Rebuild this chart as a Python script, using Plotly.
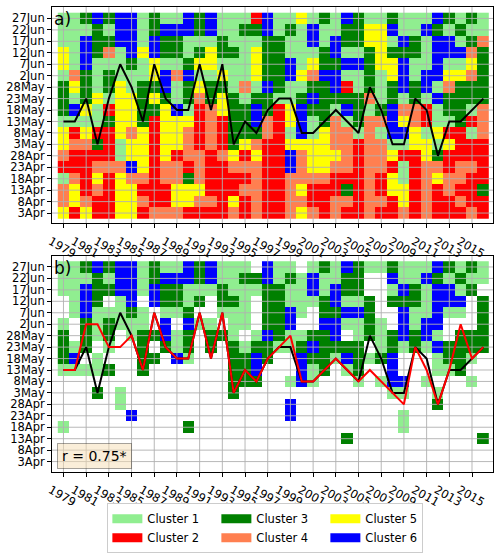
import plotly.graph_objects as go

years = list(range(1979, 2017))
pentads = ["3Apr", "8Apr", "13Apr", "18Apr", "23Apr", "28Apr", "3May", "8May", "13May",
           "18May", "23May", "28May", "2Jun", "7Jun", "12Jun", "17Jun", "22Jun", "27Jun"]

# cluster number per year (1979..2016), one string per pentad, listed from 27Jun (top) down to 3Apr
cluster_grid = [
    "1136366131163" + "6111261151316" + "311311163131",   # 27Jun
    "1113166136663" + "6113361316113" + "355611631311",   # 22Jun
    "1163366163311" + "1311133116163" + "355163166134",   # 17Jun
    "5163416563313" + "5331533111361" + "135333166643",   # 12Jun
    "5161113151135" + "5111533615336" + "635561161153",   # 7Jun
    "1431311156461" + "1511533654661" + "131561665543",   # 2Jun
    "3531351336135" + "3314163113362" + "131363614333",   # 28May
    "3135155353134" + "3531331136333" + "341313163333",   # 23May
    "3651255335612" + "4533632563316" + "313644213314",   # 18May
    "1111355325552" + "4233642561341" + "344654211324",   # 13May
    "52522545255424233" + "342161544141665152214",        # 8May
    "54432155255424235" + "422555544244115515222",        # 3May
    "42222155252442452" + "522645554244522532222",        # 28Apr
    "22244465244242244" + "422645544244212442442",        # 23Apr
    "14252544244342222" + "422444422242512454422",        # 18Apr
    "45242552225552224" + "422452223242552424223",        # 13Apr
    "45422554225544252" + "422442244244252422422",        # 8Apr
    "52522552444222242" + "422454242242242422242",        # 3Apr
]

onset_black = ["13May", "13May", "23May", "3May", "23May", "7Jun", "28May", "13May", "7Jun", "23May",
               "18May", "18May", "7Jun", "18May", "7Jun", "3May", "13May", "8May", "18May", "23May",
               "23May", "8May", "8May", "13May", "18May", "13May", "8May", "28May", "18May", "3May",
               "3May", "23May", "18May", "28Apr", "13May", "13May", "18May", "23May"]
onset_red = ["13May", "13May", "2Jun", "2Jun", "23May", "23May", "28May", "13May", "7Jun", "23May",
             "18May", "18May", "7Jun", "18May", "7Jun", "3May", "13May", "8May", "18May", "23May",
             "28May", "8May", "8May", "13May", "18May", "13May", "8May", "13May", "8May", "3May",
             "28Apr", "23May", "13May", "28Apr", "13May", "2Jun", "18May", "23May"]

cluster_names = ["Cluster 1", "Cluster 2", "Cluster 3", "Cluster 4", "Cluster 5", "Cluster 6"]
cluster_colors = ["#90EE90", "#FF0000", "#008000", "#FF7F50", "#FFFF00", "#0000FF"]
legend_columns = [[1, 2], [3, 4], [5, 6]]
panel_b_clusters = {1, 3, 6}
r_text = "r = 0.75*"

FONT = "DejaVu Sans"

z_a = [[int(c) for c in row] for row in reversed(cluster_grid)]
z_b = [[v if v in panel_b_clusters else None for v in row] for row in z_a]
yidx = list(range(len(pentads)))

colorscale = []
n = len(cluster_colors)
for k, col in enumerate(cluster_colors):
    colorscale.append([k / n, col])
    colorscale.append([(k + 1) / n, col])

xr = [1977.99, 2016.85]
yr = [-0.91, 18.0]
xticks = list(range(1979, 2016, 2))

fig = go.Figure()

def add_panel(z, xa, ya, lines):
    fig.add_trace(go.Heatmap(x=years, y=yidx, z=z, colorscale=colorscale, zmin=0.5, zmax=6.5,
                             showscale=False, hoverinfo="skip", xaxis=xa, yaxis=ya))
    gx, gy = [], []
    for t in xticks:
        gx += [t, t, None]
        gy += [yr[0], yr[1], None]
    for t in yidx:
        gx += [xr[0], xr[1], None]
        gy += [t, t, None]
    fig.add_trace(go.Scatter(x=gx, y=gy, mode="lines", line=dict(color="rgba(176,176,176,0.9)", width=1),
                             hoverinfo="skip", showlegend=False, xaxis=xa, yaxis=ya))
    for vals, col in lines:
        fig.add_trace(go.Scatter(x=years, y=[pentads.index(v) for v in vals], mode="lines",
                                 line=dict(color=col, width=2), hoverinfo="skip", showlegend=False,
                                 xaxis=xa, yaxis=ya))

add_panel(z_a, "x", "y", [(onset_black, "black")])
add_panel(z_b, "x2", "y2", [(onset_black, "black"), (onset_red, "red")])

for ci, col_items in enumerate(legend_columns):
    for k in col_items:
        extra = {"legendwidth": 64} if ci < len(legend_columns) - 1 else {}
        fig.add_trace(go.Scatter(x=[None], y=[None], mode="lines", name=cluster_names[k - 1],
                                 line=dict(color=cluster_colors[k - 1], width=9), xaxis="x2", yaxis="y2",
                                 legendgroup="col%d" % ci, **extra))

axis_common = dict(showline=True, linecolor="black", linewidth=1, mirror=True, ticks="outside",
                   ticklen=4, tickcolor="black", showgrid=False, zeroline=False,
                   tickfont=dict(family=FONT, size=11.5, color="black"))
xaxis_extra = dict(range=xr, tickvals=xticks, tickangle=30, ticklabelshift=-13, ticklabelstandoff=2,
                   ticklabeloverflow="allow")
H = 476
fig.update_layout(
    width=500, height=559,
    margin=dict(l=47, r=7, t=6, b=77),
    paper_bgcolor="white", plot_bgcolor="white",
    font=dict(family=FONT, size=11.5, color="black"),
    xaxis=dict(anchor="y", **xaxis_extra, **axis_common),
    yaxis=dict(range=yr, tickvals=yidx, ticktext=pentads, domain=[1 - 221.6 / H, 1], anchor="x", **axis_common),
    xaxis2=dict(anchor="y2", **xaxis_extra, **axis_common),
    yaxis2=dict(range=yr, tickvals=yidx, ticktext=pentads, domain=[0, 221.6 / H], anchor="x2", **axis_common),
    legend=dict(orientation="h", x=(103 - 47) / 446, xanchor="left", y=-(514 - 482) / H, yanchor="top",
                traceorder="grouped", tracegroupgap=0,
                bordercolor="#cccccc", borderwidth=1, bgcolor="white",
                font=dict(family=FONT, size=11.5, color="black"), itemwidth=30),
    showlegend=True,
)

fig.add_annotation(text="a)", xref="x domain", yref="y domain", x=0.0, y=1.0, xanchor="left",
                   yanchor="top", showarrow=False, font=dict(family=FONT, size=17, color="black"))
fig.add_annotation(text="b)", xref="x2 domain", yref="y2 domain", x=0.0, y=1.0, xanchor="left",
                   yanchor="top", showarrow=False, font=dict(family=FONT, size=17, color="black"))
fig.add_annotation(text=r_text, xref="x2 domain", yref="y2 domain", x=0.012, y=0.012, xanchor="left",
                   yanchor="bottom", showarrow=False, font=dict(family=FONT, size=14, color="black"),
                   bgcolor="rgba(245,222,179,0.5)", bordercolor="rgba(0,0,0,0.35)", borderwidth=1,
                   borderpad=4)

fig.write_html("out.html")
